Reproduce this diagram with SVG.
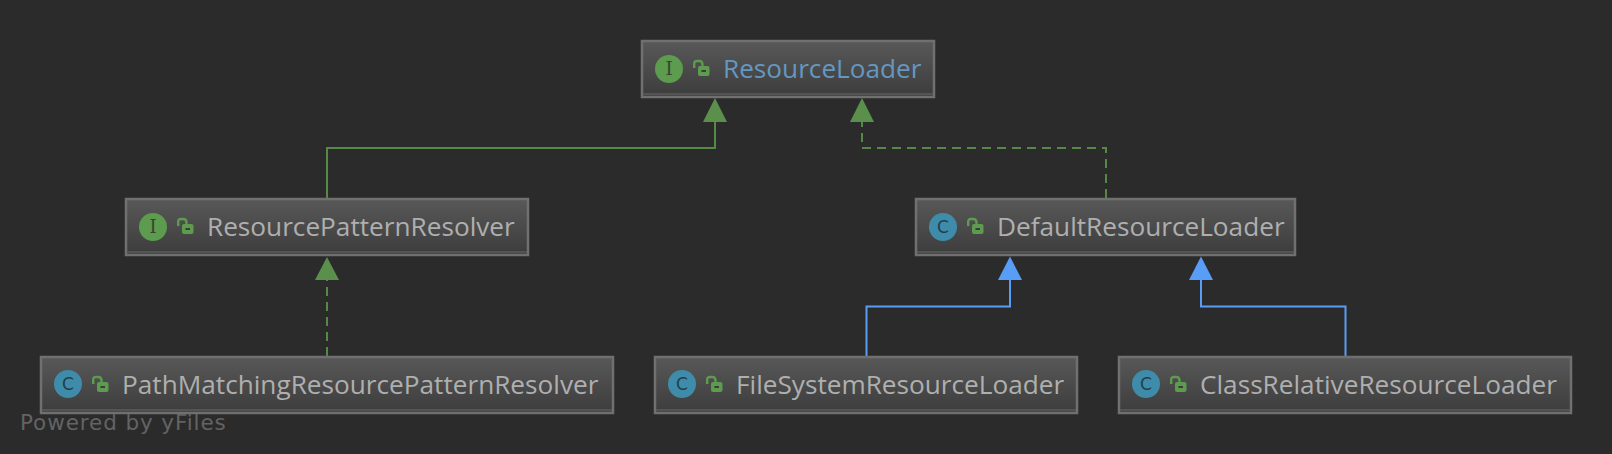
<svg xmlns="http://www.w3.org/2000/svg" width="1612" height="454" viewBox="0 0 1612 454">
<style>
.lbl{font-family:"Open Sans","Liberation Sans",sans-serif;font-size:26.200px;fill:#afafaf}
.ic{font-family:"DejaVu Sans",sans-serif;font-size:17px;text-anchor:middle}
.ii{font-family:"DejaVu Serif",serif;font-size:18px;text-anchor:middle}
.box{fill:url(#g);stroke:#707070;stroke-width:2.500}
.band{stroke:#5c5c5c;stroke-width:1.500}
.lock{fill:#5d9b4f}
.sh{fill:none;stroke:#5d9b4f;stroke-width:2.400}
.g{fill:none;stroke:#548a46;stroke-width:2}
.b{fill:none;stroke:#589df6;stroke-width:2}
.d{stroke-dasharray:9 6}
</style>
<defs>
<linearGradient id="g" x1="0" y1="0" x2="0" y2="1"><stop offset="0" stop-color="#585858"/><stop offset="1" stop-color="#3c3c3c"/></linearGradient>
<g id="lk"><path class="sh" d="M1.200 8V3.800Q1.200 1 4 1H6.500Q9 1 9.500 4V7" /><rect class="lock" x="5" y="6" width="11.500" height="10" rx="2"/><rect x="8.500" y="10" width="4.500" height="2" fill="#3d3d3d"/></g>
</defs>
<rect width="1612" height="454" fill="#2b2b2b"/>
<g id="connectors">
<path class="g" d="M327 198V148H715V122"/><path fill="#5b8f4c" d="M715 98L727 122H703Z"/>
<path class="g d" d="M1106 198V148H862V122"/><path fill="#5b8f4c" d="M862 98L874 122H850Z"/>
<path class="g d" d="M327 356V280"/><path fill="#5b8f4c" d="M327 257L339 280H315Z"/>
<path class="b" d="M866.500 356V306.500H1010V280"/><path fill="#589df6" d="M1010 256.500L1022 280H998Z"/>
<path class="b" d="M1345.500 356V306.500H1201V280"/><path fill="#589df6" d="M1201 256.500L1213 280H1189Z"/>
</g>
<g id="ResourceLoader"><rect class="box" x="642" y="41" width="292" height="56"/><path class="band" d="M643 94H933"/><circle cx="669" cy="69" r="14" fill="#5d9b4f"/><text class="ii" x="669" y="75" fill="#36452f">I</text><use href="#lk" x="693" y="60"/><text class="lbl" x="723" y="78" style="fill:#6497c1">ResourceLoader</text></g>
<g id="ResourcePatternResolver"><rect class="box" x="126" y="199" width="402" height="56"/><path class="band" d="M127 252H527"/><circle cx="153" cy="227" r="14" fill="#5d9b4f"/><text class="ii" x="153" y="233" fill="#36452f">I</text><use href="#lk" x="177" y="218"/><text class="lbl" x="207" y="236">ResourcePatternResolver</text></g>
<g id="DefaultResourceLoader"><rect class="box" x="916" y="199" width="379" height="56"/><path class="band" d="M917 252H1294"/><circle cx="943" cy="227" r="14" fill="#3f8caa"/><text class="ic" x="943" y="233" fill="#1f3f50">C</text><use href="#lk" x="967" y="218"/><text class="lbl" x="997" y="236">DefaultResourceLoader</text></g>
<g id="PathMatchingResourcePatternResolver"><rect class="box" x="41" y="357" width="572" height="56"/><path class="band" d="M42 410H612"/><circle cx="68" cy="384" r="14" fill="#3f8caa"/><text class="ic" x="68" y="390" fill="#1f3f50">C</text><use href="#lk" x="92" y="376"/><text class="lbl" x="122" y="394">PathMatchingResourcePatternResolver</text></g>
<g id="FileSystemResourceLoader"><rect class="box" x="655" y="357" width="422" height="56"/><path class="band" d="M656 410H1076"/><circle cx="682" cy="384" r="14" fill="#3f8caa"/><text class="ic" x="682" y="390" fill="#1f3f50">C</text><use href="#lk" x="706" y="376"/><text class="lbl" x="736" y="394">FileSystemResourceLoader</text></g>
<g id="ClassRelativeResourceLoader"><rect class="box" x="1119" y="357" width="452" height="56"/><path class="band" d="M1120 410H1570"/><circle cx="1146" cy="384" r="14" fill="#3f8caa"/><text class="ic" x="1146" y="390" fill="#1f3f50">C</text><use href="#lk" x="1170" y="376"/><text class="lbl" x="1200" y="394">ClassRelativeResourceLoader</text></g>
<text x="20" y="430" font-family="'DejaVu Sans',sans-serif" font-size="21.500" letter-spacing="0.900" fill="#636363">Powered by yFiles</text>
</svg>
